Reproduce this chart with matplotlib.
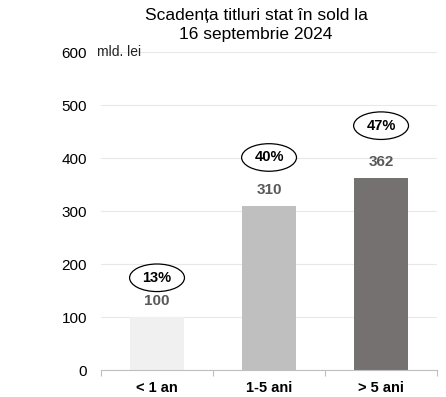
import matplotlib
matplotlib.use("Agg")
import matplotlib.pyplot as plt
from matplotlib.patches import Ellipse

plt.rcParams['font.family'] = ['Liberation Sans', 'DejaVu Sans']

# date
categorii = ["< 1 an", "1-5 ani", "> 5 ani"]
valori = [100, 310, 362]
procente = ["13%", "40%", "47%"]
pozitie_procent = [174, 401, 461]   # inaltimea elipselor (mld. lei)
culori = ["#f0f0f0", "#bfbfbf", "#767171"]
yticks = [0, 100, 200, 300, 400, 500, 600]

fig = plt.figure(figsize=(4.46, 3.97), dpi=100)
ax = fig.add_axes([0.2265, 0.068, 0.7535, 0.801])

x = range(len(categorii))
ax.bar(x, valori, width=0.48, color=culori, zorder=2)

for i, v in enumerate(valori):
    ax.text(i, v + 17, str(v), ha="center", va="bottom", fontsize=11,
            fontweight="bold", color="#595959")
    e = Ellipse((i, pozitie_procent[i]), 0.49, 52, facecolor="white",
                edgecolor="black", linewidth=0.9, zorder=3)
    ax.add_patch(e)
    ax.text(i, pozitie_procent[i], procente[i], ha="center", va="center",
            fontsize=10.5, fontweight="bold", color="black", zorder=4)

ax.set_xlim(-0.5, 2.5)
ax.set_ylim(0, 600)
ax.set_yticks(yticks)
ax.set_yticklabels([str(t) for t in yticks], fontsize=11)
ax.set_xticks(list(x))
ax.set_xticklabels(categorii, fontsize=10.5, fontweight="bold")
ax.tick_params(axis="y", length=0, pad=10)
ax.tick_params(axis="x", length=0, pad=8)
# tick-uri la marginile categoriilor
ax.set_xticks([-0.5, 0.5, 1.5, 2.5], minor=True)
ax.tick_params(axis="x", which="minor", length=4, color="#bfbfbf", width=0.8)

ax.grid(axis="y", color="#e8e8e8", linewidth=0.8, zorder=0)
for s in ["top", "right", "left"]:
    ax.spines[s].set_visible(False)
ax.spines["bottom"].set_color("#bfbfbf")
ax.spines["bottom"].set_linewidth(0.8)

ax.text(-0.536, 600, "mld. lei", fontsize=10, ha="left", va="center", color="#222222")

fig.text(0.574, 0.98, "Scadența titluri stat în sold la\n16 septembrie 2024",
         ha="center", va="top", fontsize=12.5, linespacing=1.3)

fig.savefig("out.png", dpi=100)
